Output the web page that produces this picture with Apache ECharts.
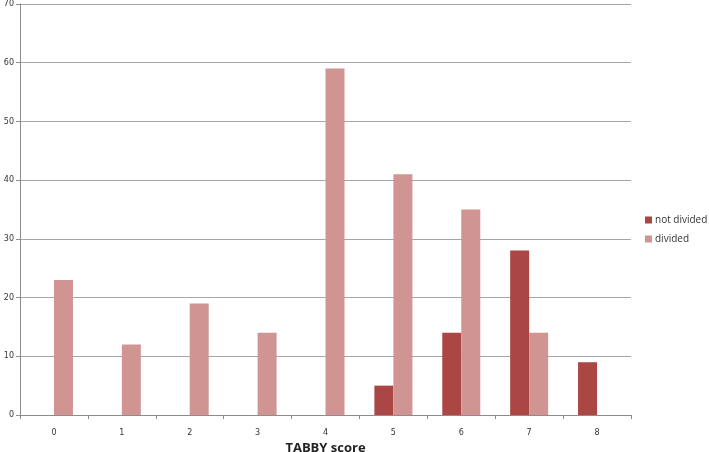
<!DOCTYPE html>
<html>
<head>
<meta charset="utf-8">
<script src="https://cdn.jsdelivr.net/npm/echarts@6/dist/echarts.min.js"></script>
<style>
  html, body { margin: 0; padding: 0; background: #fff; }
  #chart { width: 709px; height: 452px; }
</style>
</head>
<body>
<div id="chart"></div>
<script>
// TABBY score categories
var categories = ["0", "1", "2", "3", "4", "5", "6", "7", "8"];
var notDivided = [0, 0, 0, 0, 0, 5, 14, 28, 9];
var divided = [23, 12, 19, 14, 59, 41, 35, 14, 0];

var myChart = echarts.init(document.getElementById('chart'));

var option = {
    animation: false,
    grid: { left: 20, right: 78, top: 4, bottom: 37, outerBoundsMode: 'none', containLabel: false },
    legend: {
        orient: 'vertical',
        left: 640,
        top: 210,
        itemWidth: 7,
        itemHeight: 7,
        itemGap: 9,
        icon: 'rect',
        textStyle: { fontFamily: 'Open Sans', fontSize: 10, color: '#333', padding: [0, 0, 0, -2] },
        data: ['not divided', 'divided']
    },
    xAxis: {
        type: 'category',
        data: categories,
        name: 'TABBY score',
        nameLocation: 'middle',
        nameGap: 25,
        nameTextStyle: { fontFamily: 'Open Sans', fontWeight: 'bold', fontSize: 13, color: '#222' },
        axisLine: { lineStyle: { color: '#8c8c8c' } },
        axisTick: { show: true, length: 4, lineStyle: { color: '#8c8c8c' } },
        axisLabel: { fontFamily: 'DejaVu Sans', fontSize: 8, color: '#333', margin: 14 }
    },
    yAxis: {
        type: 'value',
        min: 0,
        max: 70,
        interval: 10,
        axisLine: { show: true, lineStyle: { color: '#8c8c8c' } },
        axisTick: { show: true, length: 4, lineStyle: { color: '#8c8c8c' } },
        splitLine: { lineStyle: { color: '#a6a6a6' } },
        axisLabel: { fontFamily: 'DejaVu Sans', fontSize: 8, color: '#333', margin: 6 }
    },
    series: [{
        name: 'not divided',
        type: 'bar',
        data: notDivided,
        barGap: '0%',
        barCategoryGap: '44%',
        itemStyle: { color: '#aa4644' }
    }, {
        name: 'divided',
        type: 'bar',
        data: divided,
        itemStyle: { color: '#d09493' }
    }]
};
myChart.setOption(option);
</script>
</body>
</html>
